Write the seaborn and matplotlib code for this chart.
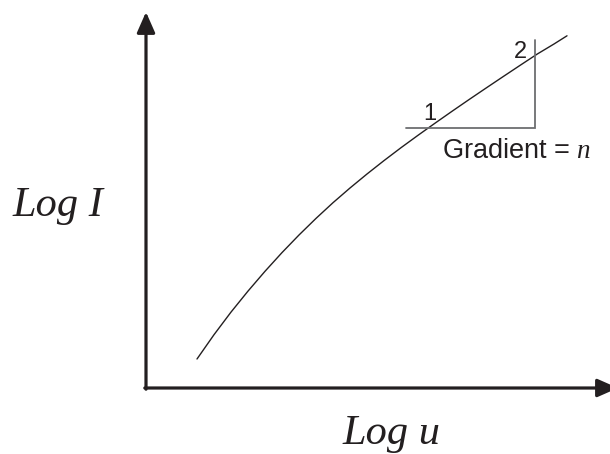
import matplotlib
matplotlib.use("Agg")
import matplotlib.pyplot as plt
import seaborn as sns
import pandas as pd

# Curve (log u, log I) in arbitrary units
log_u = [0.51, 0.68, 0.85, 1.02, 1.19, 1.36, 1.53, 1.70, 1.87, 2.04, 2.21,
         2.38, 2.55, 2.72, 2.89, 3.06, 3.23, 3.40, 3.57, 3.74, 3.91, 4.08,
         4.21]
log_i = [0.29, 0.533, 0.759, 0.969, 1.167, 1.354, 1.530, 1.696, 1.853, 2.000,
         2.140, 2.274, 2.403, 2.527, 2.648, 2.767, 2.884, 2.999, 3.113, 3.226,
         3.338, 3.440, 3.522]

# Gradient triangle (corner points)
tri_x = [2.60, 3.89, 3.89]
tri_y = [2.60, 2.60, 3.48]

x_label = "Log u"
y_label = "Log I"
grad_label = "Gradient = $n$"
pt_labels = ["1", "2"]

sns.set_theme(style="white")
plt.rcParams["font.family"] = ["Liberation Sans", "DejaVu Sans"]
plt.rcParams["mathtext.fontset"] = "custom"
plt.rcParams["mathtext.it"] = "Liberation Serif:italic"
plt.rcParams["mathtext.rm"] = "Liberation Serif"

fig = plt.figure(figsize=(6.10, 4.54), dpi=100)
ax = fig.add_axes([0, 0, 1, 1])
ax.set_xlim(-1.46, 4.64)
ax.set_ylim(-0.66, 3.88)
ax.axis("off")

df = pd.DataFrame({"x": log_u, "y": log_i})
sns.lineplot(data=df, x="x", y="y", ax=ax, color="#231f20", lw=1.0,
             sort=False, estimator=None)

# triangle
ax.plot(tri_x, tri_y, color="#6d6e71", lw=1.3, solid_joinstyle="miter")

axis_col = "#231f20"
arrow = dict(arrowstyle="-|>,head_length=1.25,head_width=0.55", lw=2.3,
             color=axis_col, mutation_scale=10, shrinkA=0, shrinkB=0)
ax.annotate("", xy=(0, 3.76), xytext=(0, -0.012), arrowprops=arrow,
            annotation_clip=False)
ax.annotate("", xy=(4.72, 0), xytext=(-0.012, 0), arrowprops=arrow,
            annotation_clip=False)

serif_it = dict(family=["Liberation Serif", "DejaVu Serif"], style="italic")
ax.text(-1.33, 1.72, y_label, fontsize=30.5, ha="left", va="baseline",
        color="#231f20", **serif_it)
ax.text(1.97, -0.56, x_label, fontsize=30.5, ha="left", va="baseline",
        color="#231f20", **serif_it)

ax.text(2.96, 2.30, grad_label, fontsize=19.5, ha="left", va="baseline",
        color="#231f20")
ax.text(2.84, 2.68, pt_labels[0], fontsize=17, ha="center", va="baseline",
        color="#231f20")
ax.text(3.74, 3.30, pt_labels[1], fontsize=17, ha="center", va="baseline",
        color="#231f20")

fig.savefig("out.png", dpi=100)
